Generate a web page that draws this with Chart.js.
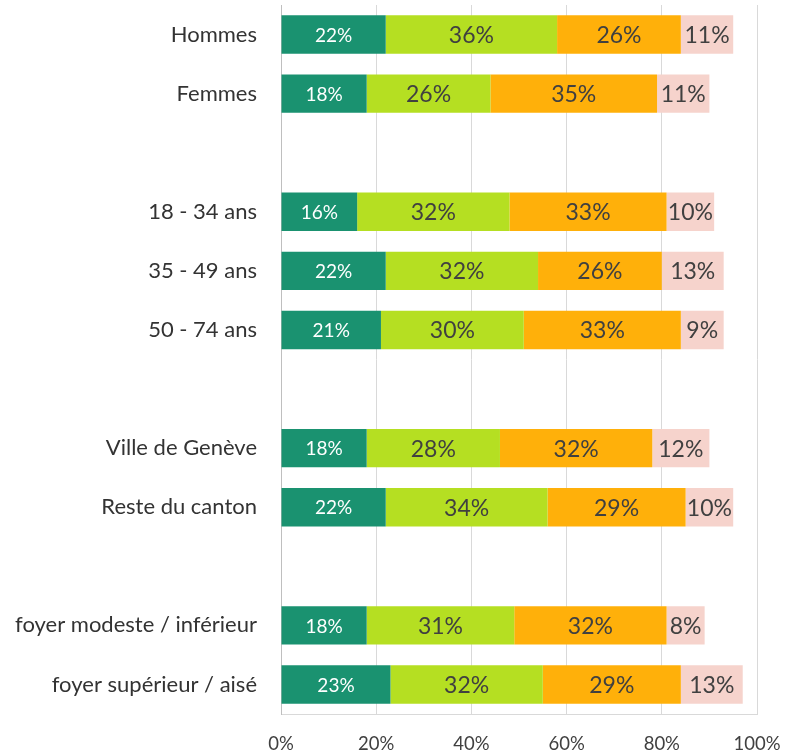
<!DOCTYPE html>
<html>
<head>
<meta charset="utf-8">
<script src="https://cdn.jsdelivr.net/npm/chart.js@4/dist/chart.umd.min.js"></script>
<style>
  html, body { margin: 0; padding: 0; background: #fff; }
  #wrap { width: 789px; height: 754px; }
</style>
</head>
<body>
<div id="wrap"><canvas id="barChart"></canvas></div>
<script>
const categories = [
  "Hommes", "Femmes", "",
  "18 - 34 ans", "35 - 49 ans", "50 - 74 ans", "",
  "Ville de Genève", "Reste du canton", "",
  "foyer modeste / inférieur", "foyer supérieur / aisé"
];
const seriesA = [22, 18, null, 16, 22, 21, null, 18, 22, null, 18, 23];
const seriesB = [36, 26, null, 32, 32, 30, null, 28, 34, null, 31, 32];
const seriesC = [26, 35, null, 33, 26, 33, null, 32, 29, null, 32, 29];
const seriesD = [11, 11, null, 10, 13, 9, null, 12, 10, null, 8, 13];
const xTicks = [0, 20, 40, 60, 80, 100];

const fontFamily = "Lato, 'Open Sans', sans-serif";

// draws the % labels in the middle of each segment
const segmentLabels = {
  id: "segmentLabels",
  afterDatasetsDraw(chart) {
    const ctx = chart.ctx;
    ctx.save();
    ctx.textAlign = "center";
    ctx.textBaseline = "middle";
    chart.data.datasets.forEach((ds, i) => {
      const meta = chart.getDatasetMeta(i);
      meta.data.forEach((bar, j) => {
        const v = ds.data[j];
        if (v == null) return;
        const first = i === 0;
        ctx.fillStyle = first ? "#ffffff" : "#404040";
        ctx.font = (first ? "19px " : "23px ") + fontFamily;
        const cx = (bar.x + bar.base) / 2;
        ctx.fillText(v + "%", cx, bar.y + 1);
      });
    });
    ctx.restore();
  }
};

const ctx = document.getElementById("barChart").getContext("2d");

new Chart(ctx, {
  type: "bar",
  data: {
    labels: categories,
    datasets: [
      { data: seriesA, backgroundColor: "#1a9270" },
      { data: seriesB, backgroundColor: "#b5df22" },
      { data: seriesC, backgroundColor: "#ffb00a" },
      { data: seriesD, backgroundColor: "#f6d3cc" }
    ]
  },
  options: {
    indexAxis: "y",
    responsive: true,
    maintainAspectRatio: false,
    animation: false,
    datasets: {
      bar: {
        categoryPercentage: 1,
        barPercentage: 0.65,
        borderWidth: 0
      }
    },
    layout: {
      padding: { top: 5, right: 32, bottom: 0, left: 0 }
    },
    plugins: {
      legend: { display: false },
      tooltip: { enabled: false }
    },
    scales: {
      x: {
        stacked: true,
        min: 0,
        max: 100,
        afterBuildTicks: (scale) => {
          scale.ticks = xTicks.map((v) => ({ value: v }));
        },
        afterFit: (scale) => {
          scale.height = 40;
          scale.paddingLeft = 0;
          scale.paddingRight = 0;
        },
        grid: {
          color: "#d9d9d9",
          drawTicks: false
        },
        border: { display: true, color: "#d9d9d9" },
        ticks: {
          color: "#404040",
          padding: 19,
          font: { family: fontFamily, size: 18.5 },
          callback: (v) => v + "%"
        }
      },
      y: {
        stacked: true,
        afterFit: (scale) => {
          scale.width = 281;
          // keep the label padding from pushing the plot down
          scale.paddingTop = 0;
          scale.paddingBottom = 0;
        },
        grid: { display: false, drawTicks: false },
        border: { display: true, color: "#bfbfbf" },
        ticks: {
          color: "#333333",
          padding: 24,
          autoSkip: false,
          font: { family: fontFamily, size: 22 }
        }
      }
    }
  },
  plugins: [segmentLabels]
});
</script>
</body>
</html>
